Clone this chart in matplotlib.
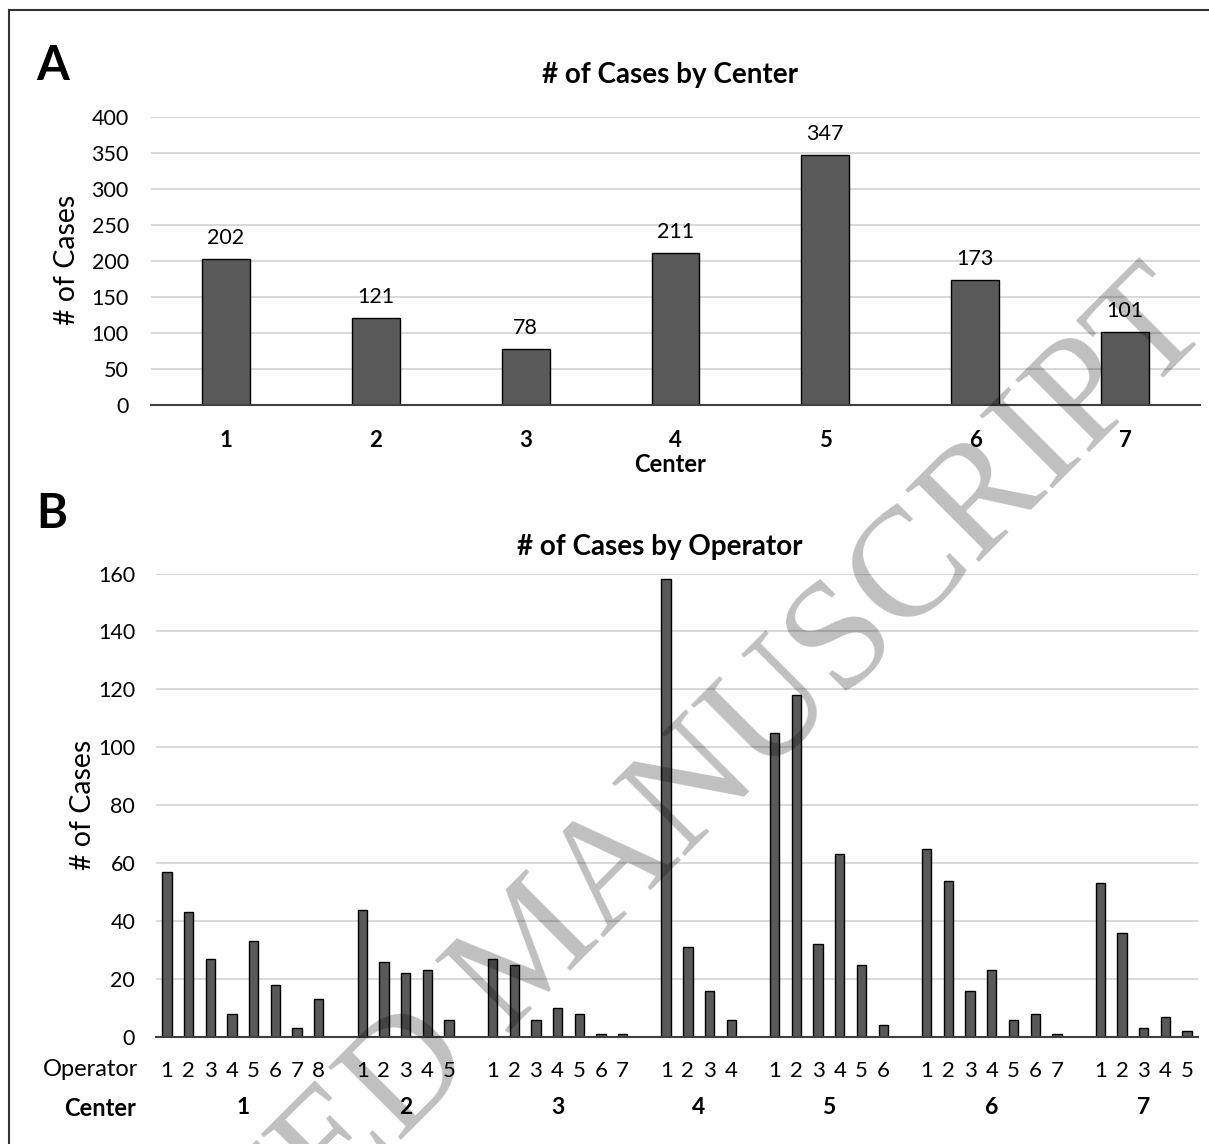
import numpy as np
import matplotlib
matplotlib.use('Agg')
import matplotlib.pyplot as plt
from matplotlib.patches import Rectangle
import matplotlib.transforms as mtransforms

plt.rcParams['font.family'] = ['Lato', 'DejaVu Sans']

# panel A: cases per center
centers = ['1', '2', '3', '4', '5', '6', '7']
center_cases = [202, 121, 78, 211, 347, 173, 101]

# panel B: cases per operator, grouped by center
op_cases = [
    [57, 43, 27, 8, 33, 18, 3, 13],
    [44, 26, 22, 23, 6],
    [27, 25, 6, 10, 8, 1, 1],
    [158, 31, 16, 6],
    [105, 118, 32, 63, 25, 4],
    [65, 54, 16, 23, 6, 8, 1],
    [53, 36, 3, 7, 2],
]

W, H = 1209, 1144
fig = plt.figure(figsize=(W / 100, H / 100), dpi=100)
BAR = '#595959'
GRID = '#d9d9d9'


def px(x0, y_top, x1, y_bot):
    # pixel box -> figure fraction
    return [x0 / W, 1 - y_bot / H, (x1 - x0) / W, (y_bot - y_top) / H]


def style(ax):
    for s in ['top', 'right', 'left']:
        ax.spines[s].set_visible(False)
    ax.spines['bottom'].set_color('#404040')
    ax.spines['bottom'].set_linewidth(1.5)
    ax.yaxis.grid(True, color=GRID, lw=1.5)
    ax.set_axisbelow(True)
    ax.tick_params(length=0)


# ---- A ----
axA = fig.add_axes(px(151, 116.7, 1200, 405))
xa = np.arange(len(centers))
axA.bar(xa, center_cases, width=0.32, color=BAR, edgecolor='black', lw=1, zorder=2)
for xi, v in zip(xa, center_cases):
    axA.annotate(str(v), (xi, v), xytext=(0, 11), textcoords='offset points',
                 ha='center', va='baseline', fontsize=15.5)
axA.set_xlim(-0.5, len(centers) - 0.5)
axA.set_ylim(0, 400)
axA.set_yticks(np.arange(0, 401, 50))
axA.set_xticks(xa, centers, fontweight='bold', fontsize=16)
style(axA)
axA.tick_params(axis='x', pad=18)
axA.tick_params(axis='y', labelsize=15.5, pad=16)
fig.text(67 / W, 1 - 260 / H, '# of Cases', rotation=90, fontsize=20.5, ha='center', va='center')
fig.text(670 / W, 1 - 75 / H, '# of Cases by Center', fontsize=20, fontweight='bold', ha='center', va='center')
fig.text(670 / W, 1 - 465 / H, 'Center', fontsize=17, fontweight='bold', ha='center', va='center')
fig.text(53 / W, 1 - 66 / H, 'A', fontsize=34, fontweight='bold', ha='center', va='center')

# ---- B ----
axB = fig.add_axes(px(156, 573.5, 1198, 1037))
xs, vals, labs, mids = [], [], [], []
pos = 0
for g in op_cases:
    gx = list(range(pos, pos + len(g)))
    xs += gx
    vals += g
    labs += [str(i + 1) for i in range(len(g))]
    mids.append(np.mean(gx))
    pos += len(g) + 1
axB.bar(xs, vals, width=0.43, color=BAR, edgecolor='black', lw=1, zorder=2)
axB.set_xlim(-0.5, pos - 1.5)
axB.set_ylim(0, 160)
axB.set_yticks(np.arange(0, 161, 20))
axB.set_xticks(xs, labs, fontsize=16)
style(axB)
axB.tick_params(axis='x', pad=17)
axB.tick_params(axis='y', labelsize=15.5, pad=15)
tr = mtransforms.blended_transform_factory(axB.transData, fig.transFigure)
for m, c in zip(mids, centers):
    axB.text(m, 1 - 1108 / H, c, transform=tr, fontsize=16.5, fontweight='bold', ha='center', va='center')
fig.text(138 / W, 1 - 1070 / H, 'Operator', fontsize=17, ha='right', va='center')
fig.text(136 / W, 1 - 1108 / H, 'Center', fontsize=17, fontweight='bold', ha='right', va='center')
fig.text(83 / W, 1 - 805 / H, '# of Cases', rotation=90, fontsize=20.5, ha='center', va='center')
fig.text(660 / W, 1 - 547 / H, '# of Cases by Operator', fontsize=20, fontweight='bold', ha='center', va='center')
fig.text(52 / W, 1 - 514 / H, 'B', fontsize=34, fontweight='bold', ha='center', va='center')

# outer frame
fig.patches.append(Rectangle((9 / W, -0.1), 2, 1.1 - 10 / H, transform=fig.transFigure,
                             fill=False, edgecolor='#333333', lw=1.5))

# watermark
fig.text(535 / W, 1 - 952 / H, 'ACCEPTED MANUSCRIPT', rotation=45, fontsize=112,
         family='Liberation Serif', color='black', alpha=0.25, ha='center', va='center',
         rotation_mode='anchor', zorder=10)

fig.savefig('out.png', dpi=100)
